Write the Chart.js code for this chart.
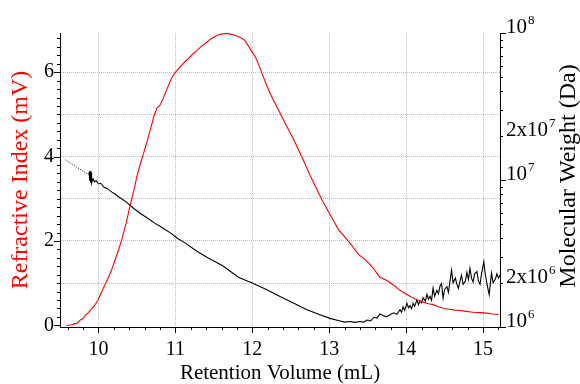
<!DOCTYPE html>
<html>
<head>
<meta charset="utf-8">
<script src="https://cdn.jsdelivr.net/npm/chart.js@4"></script>
<style>
  html, body { margin: 0; padding: 0; background: #fff; }
  #wrap { width: 580px; height: 384px; }
</style>
</head>
<body>
<div id="wrap"><canvas id="c" width="580" height="384"></canvas></div>
<script>
// ---- data ----
const riVolume = [9.58,9.62,9.66,9.69,9.72,9.76,9.80,9.83,9.87,9.90,9.95,9.99,10.03,10.07,10.12,10.17,10.21,10.26,10.31,10.36,10.40,10.43,10.47,10.50,10.54,10.58,10.62,10.65,10.69,10.72,10.76,10.80,10.84,10.89,10.94,10.98,11.03,11.08,11.13,11.18,11.22,11.28,11.34,11.40,11.46,11.51,11.56,11.61,11.66,11.70,11.75,11.80,11.85,11.90,11.95,11.99,12.04,12.09,12.13,12.18,12.23,12.28,12.33,12.38,12.43,12.49,12.55,12.60,12.67,12.75,12.84,12.91,12.99,13.04,13.12,13.21,13.29,13.38,13.47,13.53,13.58,13.62,13.66,13.75,13.84,13.92,14.01,14.08,14.15,14.22,14.29,14.35,14.42,14.49,14.56,14.63,14.70,14.78,14.87,14.96,15.05,15.12,15.20];
const riSignal = [0.00,0.00,0.02,0.04,0.04,0.12,0.16,0.24,0.30,0.37,0.47,0.59,0.74,0.91,1.10,1.31,1.52,1.78,2.08,2.42,2.75,2.97,3.28,3.53,3.80,4.04,4.28,4.48,4.74,4.95,5.15,5.22,5.38,5.60,5.82,5.95,6.06,6.16,6.26,6.34,6.42,6.52,6.62,6.70,6.79,6.84,6.89,6.91,6.92,6.91,6.89,6.86,6.82,6.76,6.62,6.50,6.36,6.15,5.95,5.72,5.50,5.32,5.14,4.96,4.78,4.57,4.36,4.16,3.89,3.56,3.22,2.96,2.69,2.53,2.27,2.08,1.90,1.68,1.55,1.44,1.34,1.23,1.14,1.06,0.95,0.83,0.73,0.66,0.60,0.55,0.51,0.49,0.44,0.40,0.38,0.36,0.35,0.33,0.31,0.30,0.29,0.27,0.26];

const mwVolume = [9.57,9.65,9.72,9.80,9.87,9.88,9.885,9.89,9.90,9.905,9.91,9.93,9.95,9.97,10.00,10.03,10.07,10.12,10.17,10.22,10.26,10.31,10.36,10.46,10.55,10.65,10.74,10.80,10.84,10.94,11.03,11.13,11.27,11.42,11.61,11.82,12.02,12.19,12.36,12.54,12.71,12.88,13.01,13.14,13.20,13.27,13.33,13.40,13.45,13.49,13.54,13.58,13.62,13.66,13.71,13.75,13.80,13.84,13.88,13.92,13.94,13.96,13.98,14.01,14.03,14.05,14.07,14.09,14.11,14.14,14.16,14.18,14.20,14.22,14.25,14.27,14.29,14.31,14.33,14.35,14.37,14.40,14.42,14.44,14.46,14.48,14.50,14.53,14.55,14.57,14.59,14.61,14.64,14.66,14.68,14.70,14.72,14.74,14.77,14.79,14.81,14.83,14.85,14.87,14.89,14.92,14.94,14.96,14.98,15.01,15.03,15.05,15.07,15.08,15.10,15.11,15.13,15.16,15.18,15.20,15.22];
const mwValue = [1.37e7,1.29e7,1.22e7,1.15e7,1.09e7,1.12e7,9.9e6,1.15e7,9.6e6,1.13e7,9.5e6,1.02e7,9.7e6,9.9e6,9.4e6,9.5e6,8.95e6,8.7e6,8.3e6,8.0e6,7.7e6,7.4e6,7.1e6,6.4e6,5.9e6,5.45e6,5.05e6,4.85e6,4.7e6,4.35e6,4.0e6,3.72e6,3.3e6,2.96e6,2.62e6,2.18e6,1.97e6,1.79e6,1.61e6,1.45e6,1.31e6,1.21e6,1.145e6,1.10e6,1.08e6,1.09e6,1.075e6,1.09e6,1.08e6,1.115e6,1.10e6,1.165e6,1.15e6,1.225e6,1.19e6,1.175e6,1.22e6,1.25e6,1.22e6,1.31e6,1.26e6,1.37e6,1.30e6,1.45e6,1.35e6,1.40e6,1.33e6,1.45e6,1.38e6,1.53e6,1.42e6,1.50e6,1.46e6,1.58e6,1.50e6,1.67e6,1.55e6,1.62e6,1.52e6,1.84e6,1.62e6,1.78e6,1.68e6,1.90e6,1.98e6,1.57e6,1.80e6,1.88e6,1.72e6,2.05e6,2.44e6,2.00e6,2.15e6,1.95e6,1.83e6,2.05e6,2.25e6,1.95e6,2.05e6,2.35e6,2.10e6,2.51e6,2.15e6,2.02e6,2.30e6,2.38e6,2.05e6,1.95e6,2.30e6,2.78e6,2.25e6,1.98e6,1.75e6,1.66e6,2.10e6,2.32e6,2.00e6,2.12e6,2.30e6,2.15e6,2.26e6];
const mwDottedEnd = 9.87;

const xTickValues = [10, 11, 12, 13, 14, 15];
const leftGridValues = [0, 1, 2, 3, 4, 5, 6];
const leftTickLabels = ['0', '', '2', '', '4', '', '6'];
const rightTickValues = [1e6, 2e6, 1e7, 2e7, 1e8];
const rightTickMantissa = ['10', '2x10', '10', '2x10', '10'];
const rightTickExponent = ['6', '6', '7', '7', '8'];

const xTitle = 'Retention Volume (mL)';
const leftTitle = 'Refractive Index (mV)';
const rightTitle = 'Molecular Weight (Da)';

// ---- chart ----
const SERIF = "'Liberation Serif', 'Times New Roman', serif";
const GRID = '#bdbdbd';

const customAxes = {
  id: 'customAxes',
  afterDraw(chart) {
    const {ctx, chartArea, scales} = chart;
    const xs = scales.x, yl = scales.yL, yr = scales.yR;
    ctx.save();
    ctx.strokeStyle = '#000';
    ctx.lineWidth = 1;
    ctx.beginPath();
    // x ticks every 0.2
    for (let k = 48; k <= 76; k++) {
      const v = k / 5;
      if (v < xs.min || v > xs.max) continue;
      const px = Math.round(xs.getPixelForValue(v)) + 0.5;
      const len = (k % 5 === 0) ? 6 : 3;
      ctx.moveTo(px, chartArea.bottom);
      ctx.lineTo(px, chartArea.bottom + len);
    }
    // left ticks every 0.2
    for (let k = 0; k <= 34; k++) {
      const v = k / 5;
      if (v > yl.max) continue;
      const py = Math.round(yl.getPixelForValue(v)) + 0.5;
      const len = (k % 10 === 0) ? 6 : 3;
      ctx.moveTo(chartArea.left, py);
      ctx.lineTo(chartArea.left - len, py);
    }
    // right log ticks
    const decades = [1e6, 1e7];
    for (const d of decades) {
      for (let m = 1; m <= 9; m++) {
        const v = m * d;
        const py = Math.round(yr.getPixelForValue(v)) + 0.5;
        const len = (m === 1) ? 6 : 3;
        ctx.moveTo(chartArea.right, py);
        ctx.lineTo(chartArea.right + len, py);
      }
    }
    const pyTop = Math.round(yr.getPixelForValue(1e8)) + 0.5;
    ctx.moveTo(chartArea.right, pyTop);
    ctx.lineTo(chartArea.right + 6, pyTop);
    ctx.stroke();

    // right tick labels with superscripts
    ctx.fillStyle = '#000';
    ctx.textBaseline = 'alphabetic';
    ctx.textAlign = 'left';
    for (let i = 0; i < rightTickValues.length; i++) {
      const py = yr.getPixelForValue(rightTickValues[i]);
      const x0 = chartArea.right + 6;
      ctx.font = '21px ' + SERIF;
      ctx.fillText(rightTickMantissa[i], x0, py);
      const w = ctx.measureText(rightTickMantissa[i]).width;
      ctx.font = '13px ' + SERIF;
      ctx.fillText(rightTickExponent[i], x0 + w + 1, py - 9);
    }

    // right axis title, reading bottom to top
    ctx.save();
    ctx.translate(569, (chartArea.top + chartArea.bottom) / 2 - 4);
    ctx.rotate(-Math.PI / 2);
    ctx.font = '24px ' + SERIF;
    ctx.textAlign = 'center';
    ctx.textBaseline = 'middle';
    ctx.fillStyle = '#000';
    ctx.fillText(rightTitle, 0, 0);
    ctx.restore();

    ctx.restore();
  }
};

new Chart(document.getElementById('c'), {
  type: 'line',
  data: {
    datasets: [
      {
        label: 'RI',
        data: riVolume.map((v, i) => ({x: v, y: riSignal[i]})),
        yAxisID: 'yL',
        borderColor: '#ff0000',
        borderWidth: 1.1,
        pointRadius: 0,
        tension: 0,
        fill: false
      },
      {
        label: 'MW',
        data: mwVolume.map((v, i) => ({x: v, y: mwValue[i]})),
        yAxisID: 'yR',
        borderColor: '#000000',
        borderWidth: 1.1,
        pointRadius: 0,
        tension: 0,
        fill: false,
        segment: {
          borderDash: ctx => (ctx.p1.parsed.x <= mwDottedEnd ? [1, 1.5] : undefined),
          borderWidth: ctx => (ctx.p1.parsed.x <= mwDottedEnd ? 1 : undefined)
        }
      }
    ]
  },
  options: {
    responsive: false,
    animation: false,
    events: [],
    layout: { padding: { top: 33, left: 0, right: 0, bottom: 0 } },
    plugins: { legend: { display: false }, tooltip: { enabled: false } },
    scales: {
      x: {
        type: 'linear',
        position: 'bottom',
        min: 9.5,
        max: 15.22,
        afterBuildTicks: s => { s.ticks = xTickValues.map(v => ({value: v})); },
        afterFit: s => { s.height = 57; },
        ticks: {
          color: '#000',
          font: { family: SERIF, size: 20 },
          padding: 11,
          maxRotation: 0,
          autoSkip: false,
          callback: v => String(v)
        },
        grid: { color: GRID, lineWidth: 1, drawTicks: false },
        border: { display: true, color: '#000', width: 1, dash: [1, 1] },
        title: {
          display: true,
          text: xTitle,
          color: '#000',
          font: { family: SERIF, size: 21, lineHeight: 1 },
          padding: { top: 0, bottom: 0 }
        }
      },
      yL: {
        type: 'linear',
        position: 'left',
        min: -0.04,
        max: 6.93,
        afterBuildTicks: s => { s.ticks = leftGridValues.map(v => ({value: v})); },
        afterFit: s => { s.width = 60; },
        ticks: {
          color: '#000',
          font: { family: SERIF, size: 20 },
          padding: 6,
          autoSkip: false,
          callback: (v, i) => leftTickLabels[i]
        },
        grid: {
          color: c => (c.tick && c.tick.value === 0 ? 'rgba(0,0,0,0)' : GRID),
          lineWidth: 1,
          drawTicks: false
        },
        border: { display: true, color: '#000', width: 1, dash: [1, 1] },
        title: {
          display: true,
          text: leftTitle,
          color: '#ff0000',
          font: { family: SERIF, size: 24, lineHeight: 1 },
          padding: { top: 9, bottom: 0 }
        }
      },
      yR: {
        type: 'logarithmic',
        position: 'right',
        min: 1e6,
        max: 1e8,
        afterBuildTicks: s => { s.ticks = rightTickValues.map(v => ({value: v})); },
        afterFit: s => { s.width = 80; },
        ticks: { display: false },
        grid: { drawOnChartArea: false, drawTicks: false },
        border: { display: true, color: '#000', width: 1 },
        title: { display: false }
      }
    }
  },
  plugins: [customAxes]
});
</script>
</body>
</html>
